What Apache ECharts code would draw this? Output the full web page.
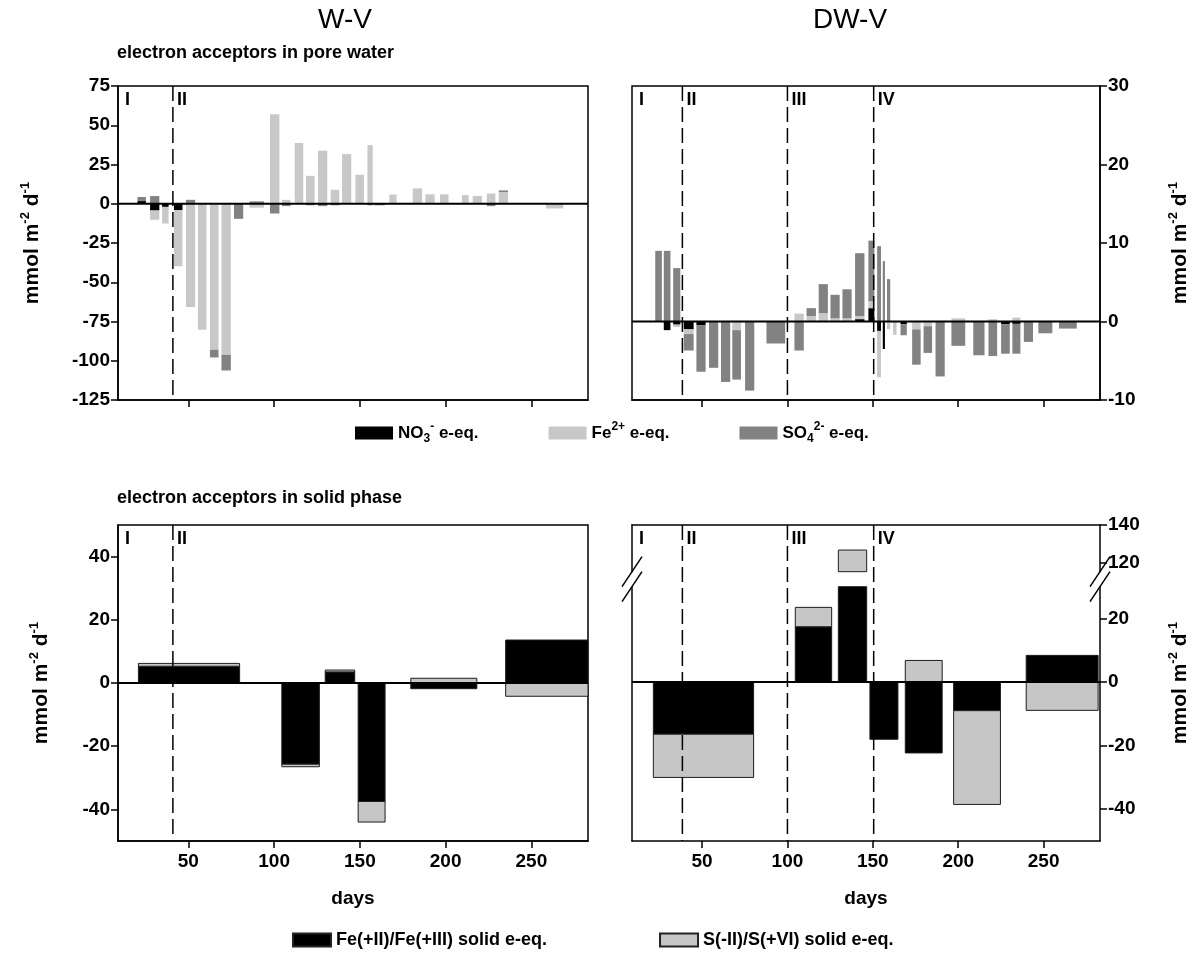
<!DOCTYPE html>
<html><head><meta charset="utf-8">
<script src="https://cdn.jsdelivr.net/npm/echarts@6/dist/echarts.min.js"></script>
<style>html,body{margin:0;padding:0;background:#fff}#c{width:1200px;height:960px}</style>
</head><body><div id="c"></div>
<script>
// ================= DATA =================
const dayTicks = [50, 100, 150, 200, 250];
const X_MIN = 9, X_MAX = 283;

// W-V, pore water (interval start / end in days, e-eq. fluxes mmol m-2 d-1)
const wvPoreStart = [19.9,27.3,34.3,41.2,48.2,55.2,62.2,68.9,76.2,85.2,97.2,104.2,111.6,118.2,125.2,132.6,139.2,147.0,154.0,157.9,166.8,180.4,187.8,196.3,209.1,215.4,223.6,230.6,258.1];
const wvPoreEnd   = [25.7,33.5,38.9,47.0,54.4,61.0,68.0,75.2,82.4,94.5,103.5,110.0,117.4,124.0,131.4,138.4,145.4,152.8,157.9,164.9,171.8,186.7,194.0,202.1,213.8,221.6,229.4,236.8,269.0];
const wvPoreNO3   = [1.7,-4.3,-2,-4,0,0,0,0,0,0,0,0,0,0,0,0,0,0,0,0,0,0,0,0,0,0,0,0,0];
const wvPoreFe    = [0,-5.9,-10.6,-35.8,-65.7,-80.2,-93,-96.2,0,-2.5,57,2.5,38.7,17.8,33.8,8.9,31.6,18.5,37.4,0,5.9,9.8,6,6,5.5,5,6.5,7.5,-3];
const wvPoreSO4   = [2.6,4.9,0,0,2.5,0,-4.9,-10,-9.6,1.5,-6.2,-1.5,0,-1,-1.5,-1,0,0,-1,-1,0,0,0,0,0,0,-1.5,1,0];

// DW-V, pore water
const dwvPoreStart = [22.2,27.2,32.7,38.9,46.3,53.7,60.7,67.3,74.8,87.3,103.7,110.8,117.9,124.8,131.8,139.2,147.0,152.1,155.4,157.9,161.4,165.8,172.6,179.3,186.3,195.6,208.4,217.3,224.7,231.3,238.0,246.5,258.6];
const dwvPoreEnd   = [26.9,31.9,37.7,45.5,52.5,59.9,66.9,73.2,81.0,99.1,110.0,117.1,124.1,131.0,138.0,145.5,151.3,155.2,157.5,160.6,164.3,170.3,178.4,185.1,192.5,204.5,215.8,223.2,230.6,236.8,244.2,255.5,269.8];
const dwvPoreNO3   = [0,-1.1,-0.4,-1.0,-0.5,0,0,0,0,0,0,0,0,0,0,0.3,1.7,-1.2,-3.5,0,0,-0.35,0,0,0,0,0,0,-0.35,-0.3,0,0,0];
const dwvPoreFe    = [0,0,-0.3,-0.6,0,0,0,-1.1,0,0,1.0,0.7,1.06,0.4,0.4,0.4,0.9,-5.9,0,-1.0,-1.7,0,-1.0,-0.6,0,0.4,0,0.3,0,0.5,0,0,0];
const dwvPoreSO4   = [9.0,9.0,6.8,-2.1,-5.9,-5.9,-7.7,-6.3,-8.8,-2.8,-3.7,1.0,3.7,3.0,3.7,8.0,7.7,9.6,7.7,5.4,0,-1.4,-4.5,-3.4,-7.0,-3.1,-4.3,-4.4,-3.75,-3.8,-2.6,-1.5,-0.9];

// W-V, solid phase
const wvSolidStart = [20.9,104.5,129.8,149.0,179.7,235.0];
const wvSolidEnd   = [79.9,126.4,147.0,164.7,218.2,283.0];
const wvSolidFe    = [5.3,-25.7,3.5,-37.5,-1.8,13.6];
const wvSolidS     = [0.9,-0.8,0.6,-6.5,1.5,-4.2];

// DW-V, solid phase
const dwvSolidStart = [21.5,104.6,129.8,148.3,169.0,197.3,239.8];
const dwvSolidEnd   = [80.2,125.9,146.4,164.7,190.6,224.7,281.9];
const dwvSolidFe    = [-16.4,17.4,30,-18,-22.3,-9,8.4];
const dwvSolidS     = [-13.6,6.1,96.8,0,6.8,-29.5,-8.9];

// phase boundaries (days) and labels
const wvPhaseDays  = [41];
const wvPhaseNames = ['I','II'];
const dwvPhaseDays = [38.5, 100, 150.5];
const dwvPhaseNames = ['I','II','III','IV'];

// axis ticks
const wvPoreTicks = {min:-125, max:75, interval:25};
const dwvPoreTicks = {min:-10, max:30, interval:10};
const solidTicks = [-40,-20,0,20,40];
const dwvSolidLowTicks = [-40,-20,0,20];
const dwvSolidHighTicks = [120,140];

// ================= LAYOUT =================
const FONT = 'Liberation Sans';
const L = {
  tl: {left:118, top:86, width:470, height:314},
  tr: {left:632, top:86, width:468, height:314},
  bl: {left:118, top:525, width:470, height:316},
  brU:{left:632, top:525, width:468, height:46.7},
  brL:{left:632, top:586.7, width:468, height:254.3},
  br: {left:632, top:525, width:468, height:316}
};
const C_NO3 = '#000000', C_FE = '#c8c8c8', C_SO4 = '#828282';
const C_FES = '#000000', C_S = '#c6c6c6';

function stackRows(starts, ends, comps) {
  const out = comps.map(() => []);
  for (let i = 0; i < starts.length; i++) {
    let pos = 0, neg = 0;
    comps.forEach((vals, k) => {
      const v = vals[i];
      if (!v) return;
      if (v > 0) { out[k].push([starts[i], ends[i], pos, pos + v]); pos += v; }
      else { out[k].push([starts[i], ends[i], neg, neg + v]); neg += v; }
    });
  }
  return out;
}

function barRender(inset, stroke) {
  return function (params, api) {
    const a = api.coord([api.value(0), api.value(2)]);
    const b = api.coord([api.value(1), api.value(3)]);
    const x = Math.min(a[0], b[0]) + inset, w = Math.abs(b[0] - a[0]) - 2 * inset;
    const y = Math.min(a[1], b[1]), h = Math.abs(b[1] - a[1]);
    const cs = params.coordSys;
    const shape = echarts.graphic.clipRectByRect({x: x, y: y, width: w, height: h},
      {x: cs.x, y: cs.y, width: cs.width, height: cs.height});
    if (!shape || shape.height <= 0.01 || shape.width <= 0.01) return;
    return {type: 'rect', shape: shape,
      style: {fill: api.visual('color'), stroke: stroke || null, lineWidth: stroke ? 1 : 0}};
  };
}

function barSeries(name, idx, rows, color, bordered) {
  return {
    type: 'custom', name: name, xAxisIndex: idx.x, yAxisIndex: idx.y,
    coordinateSystem: 'cartesian2d', clip: false, z: 2,
    itemStyle: bordered ? {color: color, borderColor: '#222', borderWidth: 1} : {color: color},
    renderItem: barRender(bordered ? 0 : 0.7, bordered ? '#1e1e1e' : null),
    encode: {x: [0, 1], y: [2, 3]},
    data: rows, silent: true
  };
}

function zeroSeries(idx) {
  return {
    type: 'custom', xAxisIndex: idx.x, yAxisIndex: idx.y, z: 5, silent: true,
    data: [[0]],
    renderItem: function (params, api) {
      const cs = params.coordSys;
      const y = api.coord([X_MIN, 0])[1];
      return {type: 'line', shape: {x1: cs.x, y1: y, x2: cs.x + cs.width, y2: y},
        style: {stroke: '#000', lineWidth: 2}};
    }
  };
}

function phaseSeries(idx, days, names) {
  const rows = [[X_MIN, 0, 0]].concat(days.map((d, i) => [d, 1, i + 1]));
  return {
    type: 'custom', xAxisIndex: idx.x, yAxisIndex: idx.y, z: 6, silent: true,
    data: rows,
    renderItem: function (params, api) {
      const cs = params.coordSys;
      const x = api.coord([api.value(0), 0])[0];
      const hasLine = api.value(1) === 1;
      const kids = [];
      if (hasLine) kids.push({type: 'line', shape: {x1: x, y1: cs.y, x2: x, y2: cs.y + cs.height},
        style: {stroke: '#000', lineWidth: 1.5, lineDash: [15, 6]}});
      kids.push({type: 'text', style: {text: names[api.value(2)], x: x + (hasLine ? 4 : 7), y: cs.y + 5,
        font: 'bold 18px ' + FONT, fill: '#000', align: 'left', verticalAlign: 'top',
        textAlign: 'left', textVerticalAlign: 'top'}});
      return {type: 'group', children: kids};
    }
  };
}

const tlRows = stackRows(wvPoreStart, wvPoreEnd, [wvPoreNO3, wvPoreFe, wvPoreSO4]);
const trRows = stackRows(dwvPoreStart, dwvPoreEnd, [dwvPoreNO3, dwvPoreFe, dwvPoreSO4]);
const blRows = stackRows(wvSolidStart, wvSolidEnd, [wvSolidFe, wvSolidS]);
const brRows = stackRows(dwvSolidStart, dwvSolidEnd, [dwvSolidFe, dwvSolidS]);

const lbl = {fontFamily: FONT, fontWeight: 'bold', fontSize: 19, color: '#000'};
const blackLine = {show: true, onZero: false, lineStyle: {color: '#000', width: 1.5}};
const tick = (vals) => ({show: true, inside: false, length: 7, lineStyle: {color: '#000', width: 1.5},
  customValues: vals});

const nameRich = {
  b: {fontFamily: FONT, fontWeight: 'bold', fontSize: 21, color: '#000', lineHeight: 26},
  sup: {fontFamily: FONT, fontWeight: 'bold', fontSize: 13, color: '#000', verticalAlign: 'top', lineHeight: 26}
};
const yName = '{b|mmol m}{sup|-2}{b| d}{sup|-1}';

function xAxisDef(gi, withLabels) {
  return {
    type: 'value', gridIndex: gi, min: X_MIN, max: X_MAX,
    axisLine: blackLine, axisTick: tick(dayTicks),
    axisLabel: withLabels ? Object.assign({show: true, margin: 11, customValues: dayTicks}, lbl) : {show: false},
    splitLine: {show: false},
    name: withLabels ? 'days' : '', nameLocation: 'middle', nameGap: 48,
    nameTextStyle: {fontFamily: FONT, fontWeight: 'bold', fontSize: 19, color: '#000'}
  };
}

const option = {
  animation: false,
  backgroundColor: '#fff',
  grid: [
    Object.assign({show: true, borderColor: '#000', borderWidth: 1.5, outerBoundsMode: 'none'}, L.tl),
    Object.assign({show: true, borderColor: '#000', borderWidth: 1.5, outerBoundsMode: 'none'}, L.tr),
    Object.assign({show: true, borderColor: '#000', borderWidth: 1.5, outerBoundsMode: 'none'}, L.bl),
    Object.assign({show: false, outerBoundsMode: 'none'}, L.brU),
    Object.assign({show: false, outerBoundsMode: 'none'}, L.brL),
    Object.assign({show: false, outerBoundsMode: 'none'}, L.br)
  ],
  xAxis: [
    xAxisDef(0, false),
    xAxisDef(1, false),
    xAxisDef(2, true),
    {type: 'value', gridIndex: 3, min: X_MIN, max: X_MAX, position: 'top', axisLine: blackLine,
      axisTick: {show: false}, axisLabel: {show: false}, splitLine: {show: false}},
    xAxisDef(4, true),
    {type: 'value', gridIndex: 5, min: X_MIN, max: X_MAX, show: false}
  ],
  yAxis: [
    {type: 'value', gridIndex: 0, min: wvPoreTicks.min, max: wvPoreTicks.max, interval: wvPoreTicks.interval,
      position: 'left', axisLine: blackLine, axisTick: tick(undefined),
      axisLabel: Object.assign({margin: 8}, lbl), splitLine: {show: false},
      name: yName, nameLocation: 'middle', nameRotate: 90, nameGap: 73, nameTextStyle: {rich: nameRich}},
    {type: 'value', gridIndex: 1, min: dwvPoreTicks.min, max: dwvPoreTicks.max, interval: dwvPoreTicks.interval,
      position: 'right', axisLine: blackLine, axisTick: tick(undefined),
      axisLabel: Object.assign({margin: 8}, lbl), splitLine: {show: false},
      name: yName, nameLocation: 'middle', nameRotate: 90, nameGap: 67, nameTextStyle: {rich: nameRich}},
    {type: 'value', gridIndex: 2, min: -50, max: 50,
      position: 'left', axisLine: blackLine, axisTick: tick(solidTicks),
      axisLabel: Object.assign({margin: 8, customValues: solidTicks}, lbl), splitLine: {show: false},
      name: yName, nameLocation: 'middle', nameRotate: 90, nameGap: 64, nameTextStyle: {rich: nameRich}},
    {type: 'value', gridIndex: 3, min: 115.4, max: 140, position: 'right', axisLine: blackLine,
      axisTick: tick(dwvSolidHighTicks), axisLabel: Object.assign({margin: 8, customValues: dwvSolidHighTicks}, lbl),
      splitLine: {show: false}},
    {type: 'value', gridIndex: 3, min: 115.4, max: 140, position: 'left', axisLine: blackLine,
      axisTick: {show: false}, axisLabel: {show: false}, splitLine: {show: false}},
    {type: 'value', gridIndex: 4, min: -50, max: 30, position: 'right', axisLine: blackLine,
      axisTick: tick(dwvSolidLowTicks), axisLabel: Object.assign({margin: 8, customValues: dwvSolidLowTicks}, lbl),
      splitLine: {show: false}},
    {type: 'value', gridIndex: 4, min: -50, max: 30, position: 'left', axisLine: blackLine,
      axisTick: {show: false}, axisLabel: {show: false}, splitLine: {show: false}},
    {type: 'value', gridIndex: 5, min: -50, max: 140, position: 'right',
      axisLine: {show: false}, axisTick: {show: false}, axisLabel: {show: false}, splitLine: {show: false},
      name: yName, nameLocation: 'middle', nameRotate: 90, nameGap: 67, nameTextStyle: {rich: nameRich}}
  ],
  legend: [
    {data: ['NO3', 'Fe', 'SO4'], left: 350, top: 416, icon: 'rect', itemWidth: 38, itemHeight: 13, itemGap: 70,
      selectedMode: false,
      formatter: function (n) {
        return {NO3: '{b|NO}{sub|3}{sup|-}{b| e-eq.}', Fe: '{b|Fe}{sup|2+}{b| e-eq.}',
          SO4: '{b|SO}{sub|4}{sup|2-}{b| e-eq.}'}[n];
      },
      textStyle: {rich: {
        b: {fontFamily: FONT, fontWeight: 'bold', fontSize: 17, color: '#000', lineHeight: 24},
        sup: {fontFamily: FONT, fontWeight: 'bold', fontSize: 12, color: '#000', verticalAlign: 'top', lineHeight: 24},
        sub: {fontFamily: FONT, fontWeight: 'bold', fontSize: 12, color: '#000', verticalAlign: 'bottom', lineHeight: 24}
      }}},
    {data: ['FeSolid', 'SSolid'], left: 287, top: 926, icon: 'rect', itemWidth: 38, itemHeight: 13, itemGap: 112,
      selectedMode: false,
      formatter: function (n) {
        return {FeSolid: 'Fe(+II)/Fe(+III) solid e-eq.', SSolid: 'S(-II)/S(+VI) solid e-eq.'}[n];
      },
      textStyle: {fontFamily: FONT, fontWeight: 'bold', fontSize: 18, color: '#000'}}
  ],
  graphic: [
    {type: 'text', x: 345, y: 20, style: {text: 'W-V', font: '28px ' + FONT, fill: '#000',
      align: 'center', verticalAlign: 'middle', textAlign: 'center', textVerticalAlign: 'middle'}},
    {type: 'text', x: 850, y: 20, style: {text: 'DW-V', font: '28px ' + FONT, fill: '#000',
      align: 'center', verticalAlign: 'middle', textAlign: 'center', textVerticalAlign: 'middle'}},
    {type: 'text', x: 117, y: 53, style: {text: 'electron acceptors in pore water', font: 'bold 18px ' + FONT,
      fill: '#000', align: 'left', verticalAlign: 'middle', textAlign: 'left', textVerticalAlign: 'middle'}},
    {type: 'text', x: 117, y: 498, style: {text: 'electron acceptors in solid phase', font: 'bold 18px ' + FONT,
      fill: '#000', align: 'left', verticalAlign: 'middle', textAlign: 'left', textVerticalAlign: 'middle'}}
  ].concat([
    [L.brU.left, L.brU.top + L.brU.height], [L.brL.left, L.brL.top],
    [L.brU.left + L.brU.width, L.brU.top + L.brU.height], [L.brL.left + L.brL.width, L.brL.top]
  ].map(p => ({type: 'line', z: 100, shape: {x1: p[0] - 10, y1: p[1] + 15, x2: p[0] + 10, y2: p[1] - 15},
    style: {stroke: '#000', lineWidth: 1.5}}))),
  series: [
    barSeries('NO3', {x: 0, y: 0}, tlRows[0], C_NO3, false),
    barSeries('Fe', {x: 0, y: 0}, tlRows[1], C_FE, false),
    barSeries('SO4', {x: 0, y: 0}, tlRows[2], C_SO4, false),
    barSeries('NO3', {x: 1, y: 1}, trRows[0], C_NO3, false),
    barSeries('Fe', {x: 1, y: 1}, trRows[1], C_FE, false),
    barSeries('SO4', {x: 1, y: 1}, trRows[2], C_SO4, false),
    barSeries('FeSolid', {x: 2, y: 2}, blRows[0], C_FES, true),
    barSeries('SSolid', {x: 2, y: 2}, blRows[1], C_S, true),
    barSeries('FeSolid', {x: 3, y: 3}, brRows[0], C_FES, true),
    barSeries('SSolid', {x: 3, y: 3}, brRows[1], C_S, true),
    barSeries('FeSolid', {x: 4, y: 5}, brRows[0], C_FES, true),
    barSeries('SSolid', {x: 4, y: 5}, brRows[1], C_S, true),
    zeroSeries({x: 0, y: 0}), zeroSeries({x: 1, y: 1}), zeroSeries({x: 2, y: 2}), zeroSeries({x: 4, y: 5}),
    phaseSeries({x: 0, y: 0}, wvPhaseDays, wvPhaseNames),
    phaseSeries({x: 1, y: 1}, dwvPhaseDays, dwvPhaseNames),
    phaseSeries({x: 2, y: 2}, wvPhaseDays, wvPhaseNames),
    phaseSeries({x: 5, y: 7}, dwvPhaseDays, dwvPhaseNames)
  ]
};

const chart = echarts.init(document.getElementById('c'), null, {renderer: 'canvas'});
chart.setOption(option);
</script>
</body></html>
